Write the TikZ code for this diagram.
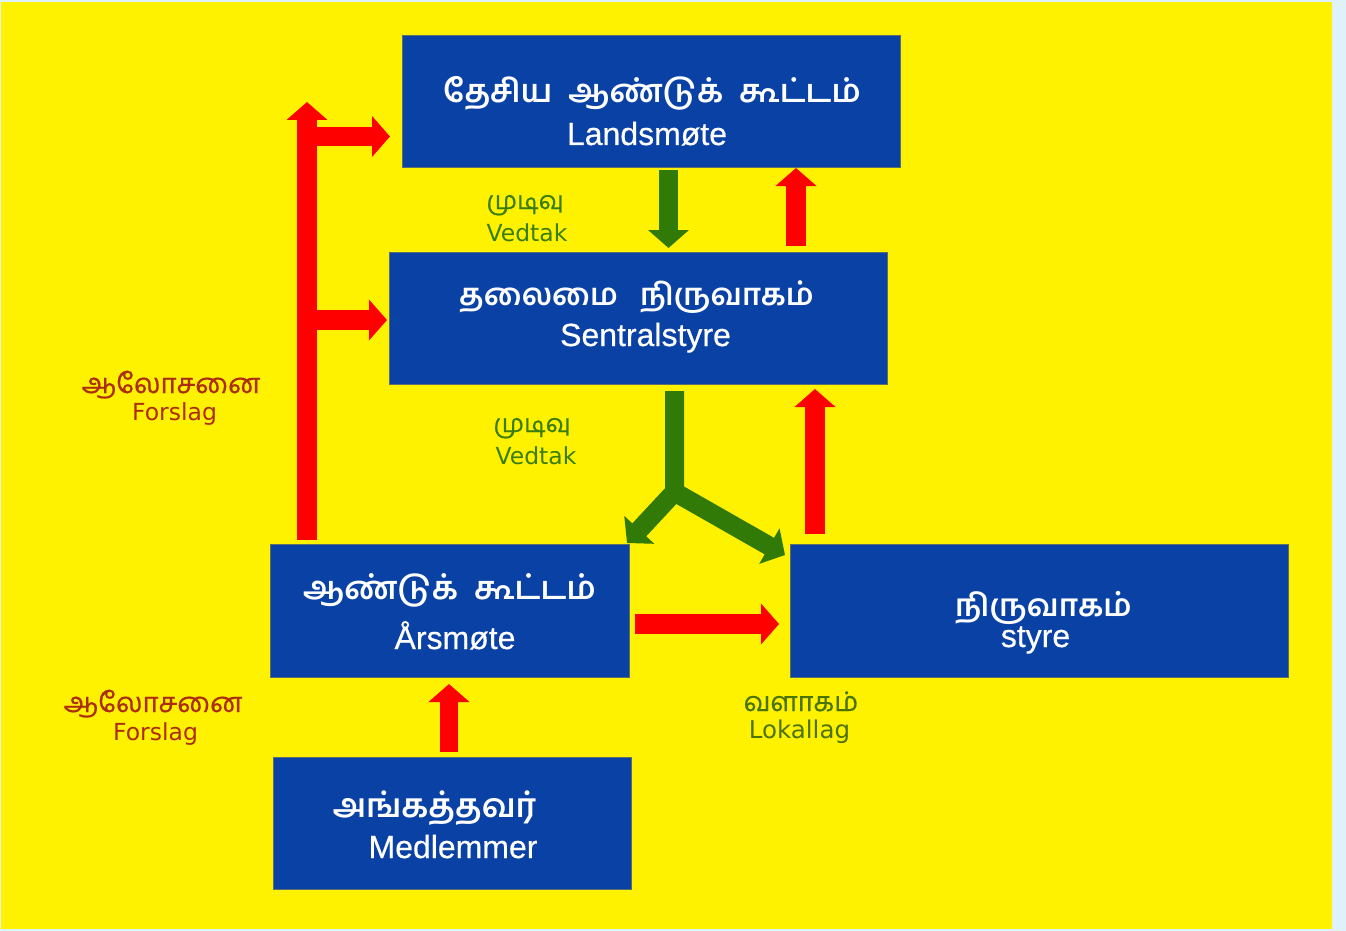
\documentclass[tikz,border=0pt]{standalone}
\usepackage{fontspec}
\setmainfont{Liberation Sans}
\newfontfamily\tamfont[Script=Tamil,FakeBold=0.6]{Hind Madurai}
\newfontfamily\tambox[Script=Tamil]{Hind Madurai}
\newfontfamily\boxlatin[FakeBold=0.5]{Liberation Sans}
\newfontfamily\labfont{DejaVu Sans}
\usetikzlibrary{arrows.meta,calc}
\definecolor{bgblue}{RGB}{223,241,250}
\definecolor{yel}{RGB}{255,242,0}
\definecolor{boxblue}{RGB}{10,65,165}
\definecolor{boxedge}{RGB}{90,110,110}
\definecolor{arrred}{RGB}{255,0,0}
\definecolor{arrgreen}{RGB}{49,122,8}
\definecolor{labred}{RGB}{172,44,14}
\definecolor{labgreen}{RGB}{58,125,10}
\definecolor{labolive}{RGB}{75,115,0}
\tikzset{
  orgbox/.style={fill=boxblue,draw=boxedge,line width=0.8pt,inner sep=0pt,outer sep=0pt,rectangle},
  tamtext/.style={color=white,font=\tambox\bfseries\fontsize{32}{32}\selectfont,inner sep=0pt,anchor=base},
  lattext/.style={color=white,font=\boxlatin\fontsize{32}{32}\selectfont,inner sep=0pt,anchor=base},
  labtam/.style={font=\tamfont\fontsize{25}{25}\selectfont,inner sep=0pt,anchor=base},
  lablat/.style={font=\labfont\fontsize{23.5}{23.5}\selectfont,inner sep=0pt,anchor=base},
  redarr/.style={draw=arrred,line width=20pt,line cap=butt,-{Triangle[length=18pt 0 0,width=40pt 0 0]}},
  greenarr/.style={draw=arrgreen,line width=19pt,line cap=butt,line join=miter,-{Triangle[length=18pt 0 0,width=40pt 0 0]}}
}
\begin{document}
\begin{tikzpicture}[x=1pt,y=-1pt]
\fill[bgblue] (0,0) rectangle (1346,931);
\fill[yel] (1,2) rectangle (1332,929);
\useasboundingbox (0,0) rectangle (1346,931);

% boxes
\node[orgbox,minimum width=498pt,minimum height=132pt] (lands) at (651,101) {};
\node[orgbox,minimum width=498pt,minimum height=132pt] (sentral) at (638,318) {};
\node[orgbox,minimum width=359pt,minimum height=133pt] (ars) at (449.5,610.5) {};
\node[orgbox,minimum width=498pt,minimum height=133pt] (styre) at (1039,610.5) {};
\node[orgbox,minimum width=358pt,minimum height=132pt] (medl) at (452,823) {};

% box texts
\node[tamtext] (landsT) at (652,103) {தேசிய\hspace{16pt}ஆண்டுக்\hspace{16pt}கூட்டம்};
\node[lattext] (landsN) at (647,145) {Landsmøte};
\node[tamtext,font=\tambox\bfseries\fontsize{30.5}{30.5}\selectfont] (sentralT) at (636.5,305) {தலைமை\hspace{22pt}நிருவாகம்};
\node[lattext] (sentralN) at (645.5,346) {Sentralstyre};
\node[tamtext] (arsT) at (449.5,599) {ஆண்டுக்\hspace{16pt}கூட்டம்};
\node[lattext] (arsN) at (455,649) {Årsmøte};
\node[tamtext,font=\tambox\bfseries\fontsize{31}{31}\selectfont] (styreT) at (1043.5,616) {நிருவாகம்};
\node[lattext] (styreN) at (1035.5,647) {styre};
\node[tamtext,font=\tambox\bfseries\fontsize{33}{33}\selectfont] (medlT) at (434.5,817) {அங்கத்தவர்};
\node[lattext] (medlN) at (453,858) {Medlemmer};

% labels
\node[labtam,text=labgreen] (ved1T) at (525,209) {முடிவு};
\node[lablat,text=labgreen] (ved1N) at (527,241) {Vedtak};
\node[labtam,text=labgreen] (ved2T) at (532,432) {முடிவு};
\node[lablat,text=labgreen] (ved2N) at (536,464) {Vedtak};
\node[labtam,text=labred,font=\tamfont\fontsize{27.5}{27.5}\selectfont] (for1T) at (171,393) {ஆலோசனை};
\node[lablat,text=labred] (for1N) at (174.5,420) {Forslag};
\node[labtam,text=labred,font=\tamfont\fontsize{27.5}{27.5}\selectfont] (for2T) at (153,712) {ஆலோசனை};
\node[lablat,text=labred] (for2N) at (155.5,740) {Forslag};
\node[labtam,text=labolive,font=\tamfont\fontsize{27}{27}\selectfont] (lokT) at (801,711) {வளாகம்};
\node[lablat,text=labolive,font=\labfont\fontsize{24.5}{24.5}\selectfont] (lokN) at (799.5,738) {Lokallag};

% coordinates
\coordinate (trunktop) at (307,102);
\coordinate (trunkA) at (307,136.5);
\coordinate (trunkB) at (307,320);
\coordinate (fork) at (674.5,492);

% red left trunk and branches
\draw[redarr] ($(ars.north west)+(37,-4)$) -- (trunktop);
\draw[redarr,line width=19pt] (trunkA) -- ($(lands.west)+(-12,35.5)$);
\draw[redarr] (trunkB) -- ($(sentral.west)+(-2,2)$);

% between Landsmote and Sentralstyre
\draw[greenarr] ($(lands.south)+(17.5,3)$) -- ($(sentral.north)+(30.5,-4)$);
\draw[redarr] ($(sentral.north)+(158,-6)$) -- ($(lands.south)+(145,1)$);

% green fork
\draw[greenarr] ($(sentral.south)+(36.5,7)$) -- (fork) -- ($(ars.north east)+(-2,-1)$);
\draw[greenarr] (fork) -- ($(styre.north west)+(-5,11)$);

% styre to sentralstyre
\draw[redarr] ($(styre.north west)+(25,-10)$) -- ($(sentral.south)+(177,5)$);

% arsmote to styre
\draw[redarr] ($(ars.east)+(6,13.5)$) -- ($(styre.west)+(-11,13.5)$);

% medlemmer to arsmote
\draw[redarr,line width=18pt] ($(medl.north)+(-3,-5)$) -- ($(ars.south)+(-0.5,7)$);
\end{tikzpicture}
\end{document}
